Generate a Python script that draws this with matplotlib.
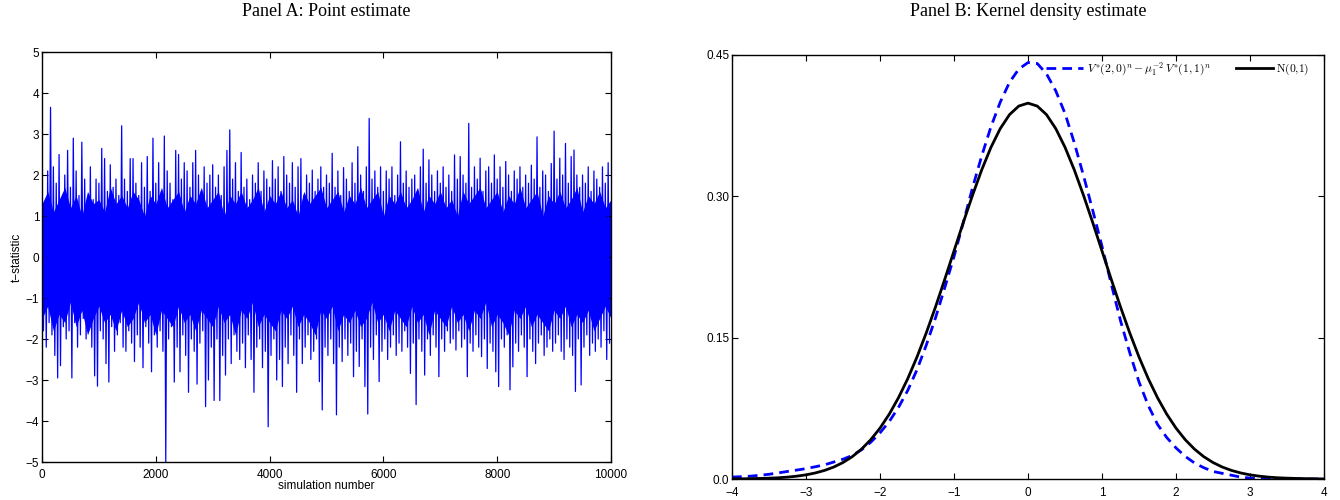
import numpy as np
import matplotlib
matplotlib.use("Agg")
from matplotlib import pyplot as plt

plt.rcParams['font.family'] = ['Liberation Sans', 'DejaVu Sans']
plt.rcParams['mathtext.fontset'] = 'cm'

# Panel A: upper / lower swing of the t-statistic, read every 50 simulations
step = 50
t_high = [1.6, 1.3, 2.1, 3.65, 2.2, 1.8, 2.5, 1.4, 2.0, 2.6,
          1.7, 2.9, 2.1, 1.5, 2.8, 1.9, 1.3, 2.2, 1.4, 1.9,
          1.8, 2.65, 2.4, 1.6, 2.25, 1.7, 1.9, 1.5, 3.2, 1.9,
          1.6, 2.4, 2.4, 1.8, 1.5, 2.3, 1.7, 2.45, 1.6, 2.9,
          1.8, 2.3, 1.6, 2.95, 2.1, 1.8, 1.4, 2.6, 2.5, 1.9,
          2.3, 2.1, 1.7, 2.3, 2.6, 2.0, 1.6, 2.2, 1.8, 2.0,
          2.25, 1.7, 2.0, 1.5, 2.2, 2.6, 3.1, 1.9, 2.3, 1.6,
          2.55, 1.7, 1.9, 1.4, 2.0, 1.8, 2.3, 1.6, 2.1, 1.9,
          1.7, 2.35, 1.9, 2.2, 1.6, 2.45, 2.0, 1.8, 2.3, 1.7,
          2.2, 2.4, 1.5, 2.0, 1.8, 2.12, 1.6, 1.9, 2.2, 1.7,
          2.0, 1.8, 2.53, 1.7, 2.1, 1.5, 2.18, 1.9, 1.6, 2.3,
          1.8, 2.69, 2.0, 1.6, 2.2, 3.38, 1.9, 2.1, 1.7, 2.2,
          1.6, 2.1, 1.9, 2.2, 1.5, 2.0, 2.81, 1.8, 2.1, 1.7,
          1.9, 2.0, 1.6, 2.2, 2.63, 1.8, 2.37, 2.0, 1.6, 2.1,
          1.8, 2.2, 1.7, 2.0, 1.6, 2.49, 1.9, 2.45, 2.0, 1.8,
          3.26, 1.7, 2.2, 1.9, 2.41, 1.6, 2.1, 2.2, 1.8, 2.49,
          1.9, 2.2, 1.7, 2.33, 2.0, 1.6, 2.1, 1.9, 2.2, 1.7,
          2.0, 1.8, 2.24, 1.9, 2.93, 1.7, 2.1, 2.0, 1.6, 2.28,
          3.07, 1.9, 2.41, 2.0, 2.77, 1.8, 2.45, 2.61, 2.0, 1.7,
          2.0, 1.8, 2.2, 1.6, 2.1, 1.9, 1.7, 2.2, 1.8, 2.3]
t_low = [-1.8, -2.2, -1.6, -1.9, -2.4, -2.95, -2.65, -1.7, -2.0, -1.8,
         -2.95, -1.6, -2.2, -1.9, -1.5, -2.0, -1.7, -2.2, -2.9, -3.15,
         -1.8, -2.0, -2.6, -3.05, -1.7, -2.3, -1.9, -1.6, -2.2, -2.3,
         -1.8, -2.1, -2.55, -1.9, -2.2, -2.7, -1.7, -2.1, -2.8, -1.9,
         -2.2, -1.8, -2.3, -5.0, -2.0, -1.7, -3.05, -2.2, -2.8, -1.9,
         -2.4, -3.3, -2.0, -2.3, -3.1, -2.1, -1.8, -3.65, -3.0, -2.2,
         -3.5, -2.0, -3.5, -2.4, -2.88, -2.0, -2.6, -1.9, -2.3, -2.5,
         -2.1, -2.7, -1.9, -2.5, -3.3, -2.2, -2.0, -2.7, -2.3, -4.14,
         -2.4, -2.0, -3.0, -2.5, -3.16, -2.2, -2.6, -1.9, -2.4, -3.3,
         -2.0, -2.6, -2.2, -1.9, -2.5, -2.3, -2.0, -3.04, -3.73, -2.2,
         -2.4, -2.0, -2.6, -3.85, -2.2, -2.55, -2.0, -2.4, -2.1, -2.92,
         -2.3, -2.67, -2.0, -3.16, -3.83, -2.2, -2.5, -1.9, -3.04, -2.3,
         -2.0, -2.5, -2.2, -1.9, -2.4, -2.1, -2.3, -1.8, -2.2, -2.84,
         -2.1, -3.6, -2.0, -2.3, -2.88, -2.0, -2.4, -1.9, -2.2, -2.92,
         -2.0, -2.3, -1.8, -2.1, -2.0, -2.27, -1.8, -2.2, -2.0, -2.92,
         -2.1, -2.3, -1.9, -2.2, -2.43, -2.0, -2.72, -2.1, -2.3, -2.8,
         -3.16, -2.0, -2.2, -1.9, -3.24, -2.68, -2.1, -2.3, -1.9, -2.2,
         -2.92, -2.0, -2.3, -2.6, -2.1, -1.9, -2.4, -2.2, -2.0, -2.3,
         -2.1, -1.9, -2.3, -2.5, -2.0, -2.2, -2.4, -3.28, -2.0, -3.12,
         -2.2, -1.9, -2.4, -2.1, -2.3, -2.0, -2.2, -1.8, -2.5, -2.1]
# solid core of the band, read every 100 simulations
core_step = 100
core_high = [1.3, 1.6, 1.1, 1.4, 1.7, 1.2, 1.5, 1.0, 1.6, 1.3,
             1.4, 1.1, 1.7, 1.3, 1.5, 1.2, 1.6, 1.4, 1.0, 1.5,
             1.3, 1.7, 1.2, 1.4, 1.6, 1.1, 1.5, 1.3, 1.7, 1.2,
             1.4, 1.6, 1.0, 1.5, 1.3, 1.6, 1.2, 1.4, 1.7, 1.1,
             1.5, 1.3, 1.6, 1.2, 1.4, 1.0, 1.6, 1.3, 1.5, 1.7,
             1.2, 1.4, 1.6, 1.1, 1.5, 1.3, 1.7, 1.2, 1.4, 1.6,
             1.0, 1.5, 1.3, 1.6, 1.2, 1.4, 1.7, 1.1, 1.5, 1.3,
             1.6, 1.2, 1.4, 1.0, 1.6, 1.3, 1.5, 1.7, 1.2, 1.4,
             1.6, 1.1, 1.5, 1.3, 1.7, 1.2, 1.4, 1.6, 1.0, 1.5,
             1.3, 1.6, 1.2, 1.4, 1.7, 1.1, 1.5, 1.3, 1.6, 1.2, 1.4]
core_low = [-1.5, -1.2, -1.8, -1.4, -1.6, -1.1, -1.7, -1.3, -1.9, -1.5,
            -1.2, -1.6, -1.4, -1.8, -1.3, -1.7, -1.5, -1.1, -1.6, -1.4,
            -1.9, -1.3, -1.5, -1.7, -1.2, -1.6, -1.4, -1.8, -1.3, -1.5,
            -1.7, -1.2, -1.6, -1.4, -1.9, -1.3, -1.5, -1.1, -1.7, -1.4,
            -1.6, -1.8, -1.3, -1.5, -1.2, -1.7, -1.4, -1.6, -1.9, -1.3,
            -1.5, -1.2, -1.8, -1.4, -1.6, -1.3, -1.7, -1.5, -1.1, -1.6,
            -1.4, -1.8, -1.3, -1.5, -1.7, -1.2, -1.6, -1.4, -1.9, -1.3,
            -1.5, -1.7, -1.2, -1.6, -1.4, -1.8, -1.3, -1.5, -1.1, -1.7,
            -1.4, -1.6, -1.9, -1.3, -1.5, -1.2, -1.7, -1.4, -1.6, -1.8,
            -1.3, -1.5, -1.2, -1.7, -1.4, -1.6, -1.3, -1.8, -1.5, -1.2, -1.5]

# Panel B: densities, every 0.125
grid = [-4 + 0.125 * k for k in range(65)]
kde = [0.002, 0.0025, 0.003, 0.004, 0.005, 0.0065, 0.008, 0.0095, 0.011, 0.013,
       0.015, 0.018, 0.021, 0.025, 0.031, 0.039, 0.049, 0.061, 0.076, 0.094,
       0.116, 0.142, 0.171, 0.203, 0.236, 0.272, 0.309, 0.343, 0.374, 0.400,
       0.421, 0.435, 0.442, 0.441, 0.430, 0.412, 0.388, 0.357, 0.322, 0.285,
       0.247, 0.207, 0.168, 0.134, 0.103, 0.078, 0.058, 0.044, 0.033, 0.024,
       0.017, 0.012, 0.008, 0.006, 0.004, 0.002, 0.001, 0.0005, 0.0, 0.0,
       0.0, 0.0, 0.0, 0.0, 0.0]
normal_half = [0.3989, 0.3958, 0.3867, 0.3719, 0.3521, 0.3282, 0.3011, 0.2721, 0.2420,
               0.2119, 0.1826, 0.1550, 0.1295, 0.1065, 0.0863, 0.0688, 0.0540, 0.0417,
               0.0317, 0.0237, 0.0175, 0.0127, 0.0091, 0.0064, 0.0044, 0.0030, 0.0020,
               0.0013, 0.0009, 0.0006, 0.0004, 0.0002, 0.0001]
normal = normal_half[::-1] + normal_half[1:]


def style_axes(ax, xpad):
    ax.tick_params(direction='in', top=True, right=True, labelsize=8.5,
                   length=4, width=0.8)
    ax.tick_params(axis='x', pad=xpad)
    ax.tick_params(axis='y', pad=2)
    for sp in ax.spines.values():
        sp.set_linewidth(1.0)


fig = plt.figure(figsize=(13.4, 5), dpi=100)

# ---- Panel A
ax1 = fig.add_axes([42 / 1340, 1 - 462 / 500, 569 / 1340, 410 / 500])
sims, vals = [], []
for i, (h, l) in enumerate(zip(t_high, t_low)):
    sims += [i * step, i * step + step / 2]
    vals += [h, l]
core_sim = [k * core_step for k in range(len(core_high))]
ax1.fill_between(core_sim, core_low, core_high, color='#0000ff', lw=0)
ax1.plot(sims, vals, color='#0000ff', lw=0.9)
ax1.set_xlim(0, 10000)
ax1.set_ylim(-5, 5)
ax1.set_xticks(range(0, 10001, 2000))
ax1.set_yticks(range(-5, 6))
ax1.set_xlabel('simulation number', fontsize=8.5, labelpad=-1)
ax1.set_ylabel('t\u2212statistic', fontsize=8.5, labelpad=2)
style_axes(ax1, 5)

# ---- Panel B
ax2 = fig.add_axes([732 / 1340, 1 - 479 / 500, 592 / 1340, 424 / 500])
ax2.plot(grid, kde, color='#0000ff', lw=2, ls=(0, (3.5, 2.2)),
         label=r'$V^{*}(2,0)^{n}-\mu_1^{-2}\,V^{*}(1,1)^{n}$')
ax2.plot(grid, normal, color='black', lw=2, label=r'$\mathrm{N}(0{,}1)$')
ax2.set_xlim(-4, 4)
ax2.set_ylim(0, 0.45)
ax2.set_xticks(range(-4, 5))
ax2.set_yticks([0, 0.15, 0.30, 0.45])
ax2.set_yticklabels(['0.0', '0.15', '0.30', '0.45'])
style_axes(ax2, 6)
ax2.legend(loc='upper right', bbox_to_anchor=(0.985, 1.0), ncol=2,
           frameon=False, fontsize=8.3, handlelength=3.2, handletextpad=0.3,
           columnspacing=2.2, borderaxespad=0.3, borderpad=0.2)

fig.text((42 + 611) / 2 / 1340, 1 - 12 / 500, 'Panel A: Point estimate',
         family='Liberation Serif', fontsize=13, ha='center', va='center')
fig.text((732 + 1324) / 2 / 1340, 1 - 12 / 500, 'Panel B: Kernel density estimate',
         family='Liberation Serif', fontsize=13, ha='center', va='center')

fig.savefig('out.png', dpi=100)
